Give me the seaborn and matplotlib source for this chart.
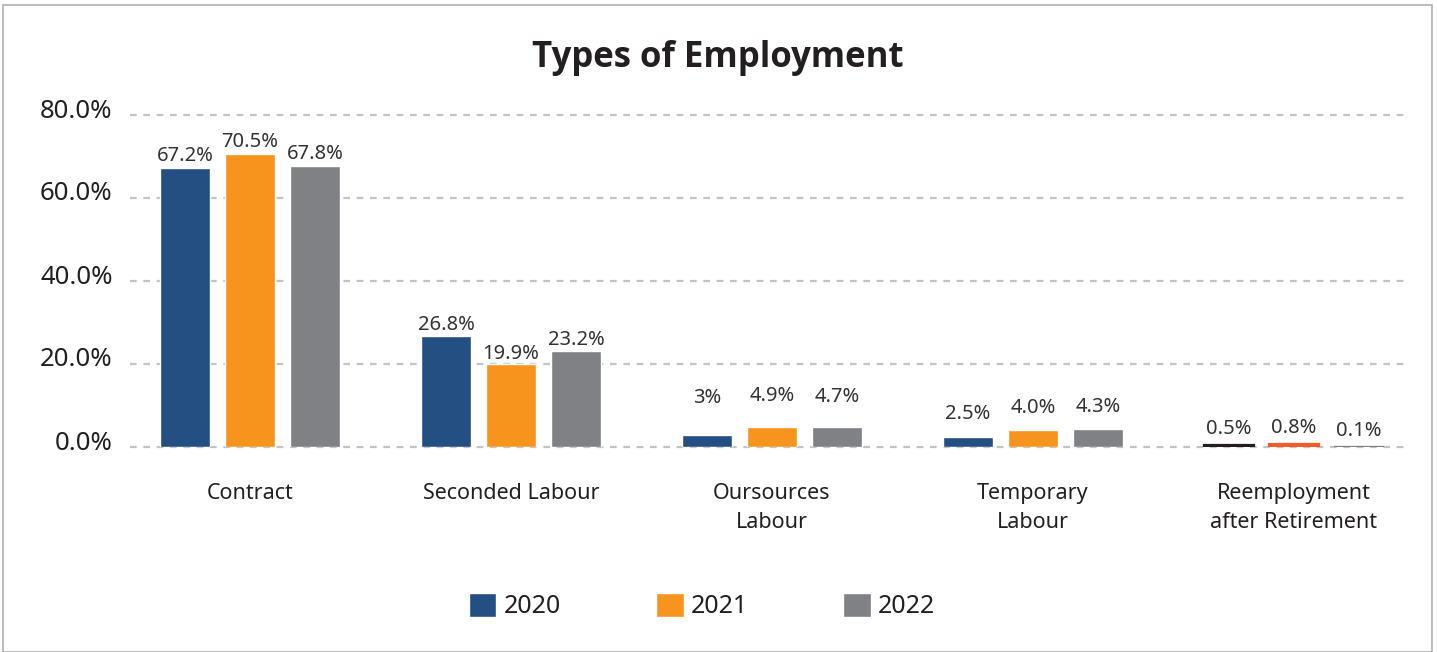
import matplotlib
matplotlib.use("Agg")
import matplotlib.pyplot as plt
import matplotlib.transforms as mtransforms
import seaborn as sns
import pandas as pd
from matplotlib.patches import Rectangle

categories = ["Contract", "Seconded Labour", "Oursources\nLabour", "Temporary\nLabour",
              "Reemployment\nafter Retirement"]
years = ["2020", "2021", "2022"]
values_2020 = [67.2, 26.8, 3.0, 2.5, 0.5]
values_2021 = [70.5, 19.9, 4.9, 4.0, 0.8]
values_2022 = [67.8, 23.2, 4.7, 4.3, 0.1]
labels_2020 = ["67.2%", "26.8%", "3%", "2.5%", "0.5%"]
labels_2021 = ["70.5%", "19.9%", "4.9%", "4.0%", "0.8%"]
labels_2022 = ["67.8%", "23.2%", "4.7%", "4.3%", "0.1%"]
yticks = [0, 20, 40, 60, 80]
ytick_labels = ["0.0%", "20.0%", "40.0%", "60.0%", "80.0%"]

rows = []
for y, vals in zip(years, [values_2020, values_2021, values_2022]):
    for c, v in zip(categories, vals):
        rows.append({"category": c, "year": y, "value": v})
df = pd.DataFrame(rows)

sns.set_theme(style="white")
plt.rcParams["font.family"] = ["Noto Sans", "DejaVu Sans"]

palette = {"2020": "#244f82", "2021": "#f7941d", "2022": "#808184"}
last_group_colors = ["#231f20", "#f15a29", "#808184"]

W, H = 1437, 652
fig = plt.figure(figsize=(W / 100, H / 100), dpi=100)
ax_left, ax_right = 119.5, 1424.5
ax = fig.add_axes([ax_left / W, 205 / H, (ax_right - ax_left) / W, 332 / H])

sns.barplot(data=df, x="category", y="value", hue="year", order=categories,
            hue_order=years, palette=palette, width=0.747, gap=0.23,
            saturation=1, ax=ax, legend=True)

# label offsets in points: [group][category]
label_pad = [[1.5, 0.5, 19, 9, 4.3],
             [1.5, 0.5, 15, 9, 4.3],
             [1.5, 0.5, 15, 9, 4.3]]
all_labels = [labels_2020, labels_2021, labels_2022]
for hi, cont in enumerate(ax.containers):
    for ci, bar in enumerate(cont):
        if ci == 4:
            bar.set_facecolor(last_group_colors[hi])
            bar.set_edgecolor(last_group_colors[hi])
            bar.set_linewidth(1.6)
        ax.annotate(all_labels[hi][ci],
                    (bar.get_x() + bar.get_width() / 2, bar.get_height()),
                    xytext=(0, label_pad[hi][ci]), textcoords="offset points",
                    ha="center", va="bottom", fontsize=14.5, color="#333333")

ax.set_xlim(-0.5, 4.5)
ax.set_ylim(0, 80)
ax.set_yticks(yticks)
ax.set_yticklabels(ytick_labels, fontsize=18.5, color="#231f20")
ax.tick_params(axis="x", labelsize=15.5, colors="#231f20", pad=26, length=0)
ax.tick_params(axis="y", pad=5, length=0)
offset = mtransforms.ScaledTranslation(0, 7 / 100, fig.dpi_scale_trans)
for lbl in ax.get_yticklabels():
    lbl.set_transform(lbl.get_transform() + offset)
ax.set_xlabel("")
ax.set_ylabel("")
for s in ax.spines.values():
    s.set_visible(False)
gx0 = (130 - ax_left) / (ax_right - ax_left)
gx1 = (1410 - ax_left) / (ax_right - ax_left)
for t in yticks:
    ax.axhline(t, xmin=gx0, xmax=gx1, color="#c4c4c4", linestyle=(0, (3, 3)),
               linewidth=1.6, zorder=0, clip_on=False)
ax.set_axisbelow(True)
for lbl in ax.get_xticklabels():
    lbl.set_linespacing(1.5)

handles, lbls = ax.get_legend_handles_labels()
ax.legend(handles, lbls, loc="center", bbox_to_anchor=(702 / W, 46 / H),
          bbox_transform=fig.transFigure, ncol=3, frameon=False, fontsize=18,
          handlelength=1.1, handleheight=1.1, handletextpad=0.3,
          columnspacing=3.8, labelcolor="#231f20")

fig.text(718 / W, 1 - 58 / H, "Types of Employment", ha="center",
         va="center", fontsize=25, fontweight="bold", color="#231f20",
         family=["Open Sans", "DejaVu Sans"])

fig.patches.append(Rectangle((3 / W, 0), 1429 / W, 1 - 5 / H,
                             transform=fig.transFigure, fill=False,
                             edgecolor="#b0b0b0", linewidth=1.2))

fig.savefig("out.png", dpi=100)
